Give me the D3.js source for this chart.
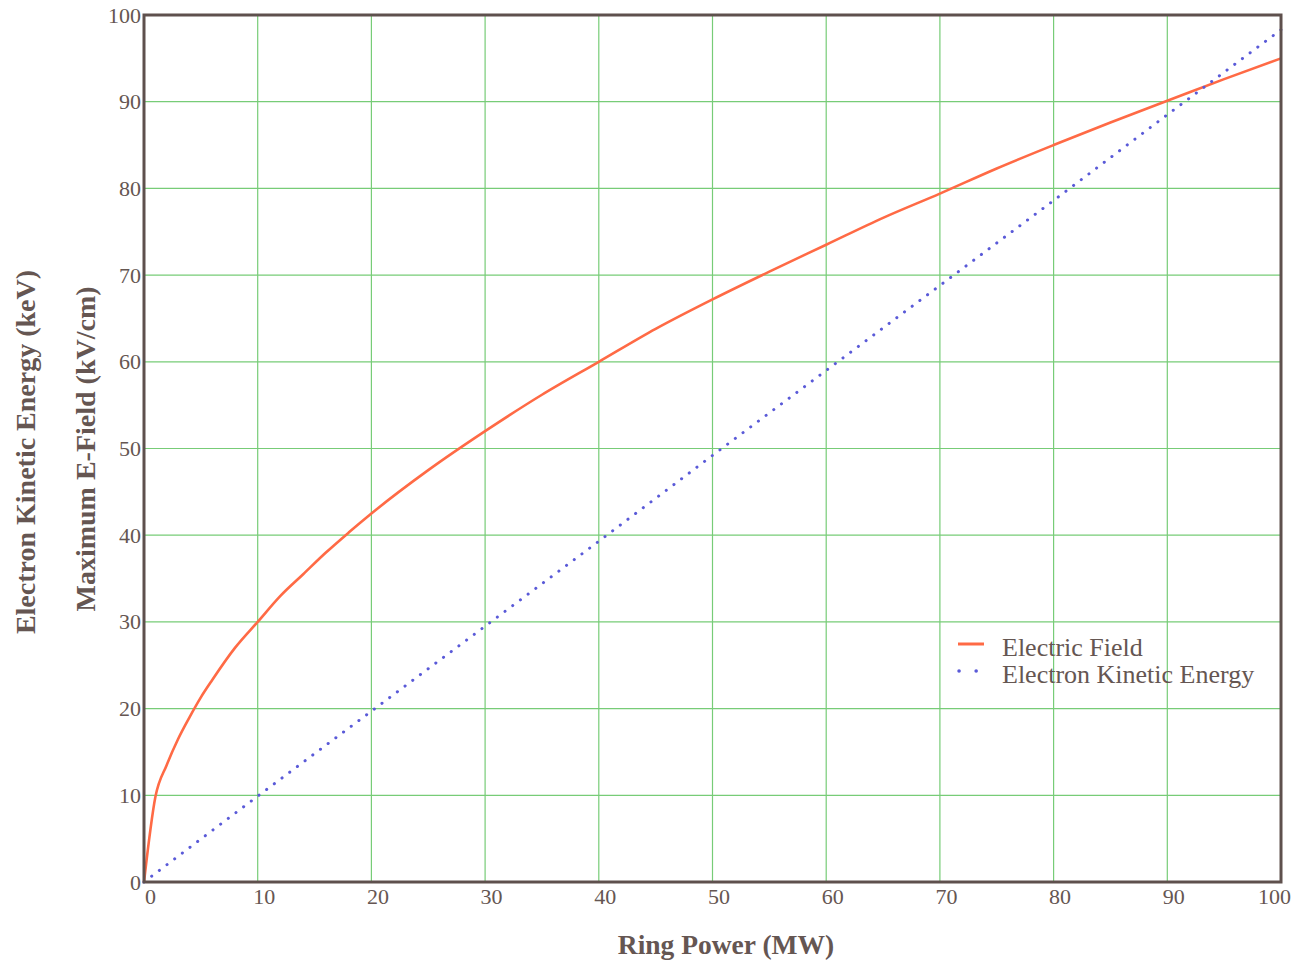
<!DOCTYPE html>
<meta charset="utf-8">
<style>
body { margin:0; background:#fff; overflow:hidden; }
text { font-family:'Liberation Serif', 'DejaVu Serif', serif; fill:#655652; }
</style>
<svg width="1294" height="962"></svg>
<script src="https://d3js.org/d3.v7.min.js"></script>
<script>
// ring power (MW) vs electric field (kV/cm)
var fieldPower = [0, 1, 2, 3, 4, 5, 6, 8, 10, 12, 14, 16, 18, 20, 25, 30, 35, 40, 45, 50, 55, 60, 65, 70, 75, 80, 85, 90, 95, 100]
var fieldValue = [0, 9.8, 13.5, 16.5, 19, 21.3, 23.3, 27, 30, 33, 35.5, 38, 40.3, 42.5, 47.5, 52, 56.2, 60, 63.8, 67.2, 70.4, 73.5, 76.6, 79.4, 82.3, 85, 87.6, 90.1, 92.6, 95]
// electron kinetic energy (keV)
var kePower = [0, 10, 20, 30, 40, 50, 60, 70, 80, 90, 100]
var keValue = [0, 9.9, 19.7, 29.5, 39.3, 49.2, 59, 68.8, 78.6, 88.5, 98.3]
var xTicks = [0, 10, 20, 30, 40, 50, 60, 70, 80, 90, 100]
var yTicks = [0, 10, 20, 30, 40, 50, 60, 70, 80, 90, 100]

var svg = d3.select('svg')
var plotL = 144, plotR = 1281, plotT = 15, plotB = 882

var x = d3.scaleLinear().domain([0, 100]).range([plotL, plotR])
var y = d3.scaleLinear().domain([0, 100]).range([plotB, plotT])

// grid
var grid = svg.append('g').attr('stroke', '#77cc77').attr('stroke-width', 1.2)
grid.selectAll('.gx').data(xTicks.slice(1, -1)).enter().append('line')
    .attr('x1', d => x(d)).attr('x2', d => x(d)).attr('y1', plotT).attr('y2', plotB)
grid.selectAll('.gy').data(yTicks.slice(1, -1)).enter().append('line')
    .attr('y1', d => y(d)).attr('y2', d => y(d)).attr('x1', plotL).attr('x2', plotR)

// axes (labels only, frame drawn separately)
var xAxis = svg.append('g').attr('transform', 'translate(0,' + plotB + ')')
    .call(d3.axisBottom(x).tickValues(xTicks).tickSize(0).tickPadding(6))
var yAxis = svg.append('g').attr('transform', 'translate(' + plotL + ',0)')
    .call(d3.axisLeft(y).tickValues(yTicks).tickSize(0).tickPadding(3))
svg.selectAll('.domain').remove()
svg.selectAll('.tick text').attr('font-size', 22).attr('fill', '#655652')
    .attr('font-family', "'Liberation Serif', serif")
xAxis.selectAll('.tick text').attr('dx', d => d === 100 ? -7 : 6)

// curves
var fieldLine = d3.line().x((d, i) => x(fieldPower[i])).y(d => y(d)).curve(d3.curveMonotoneX)
svg.append('path').datum(fieldValue).attr('d', fieldLine)
    .attr('fill', 'none').attr('stroke', '#ff6a45').attr('stroke-width', 2.6)

var keLine = d3.line().x((d, i) => x(kePower[i])).y(d => y(d))
svg.append('path').datum(keValue).attr('d', keLine)
    .attr('fill', 'none').attr('stroke', '#5a5ad8').attr('stroke-width', 3)
    .attr('stroke-dasharray', '0.1,9.5').attr('stroke-linecap', 'round')

// frame
svg.append('rect').attr('x', plotL).attr('y', plotT).attr('width', plotR - plotL).attr('height', plotB - plotT)
    .attr('fill', 'none').attr('stroke', '#5e504d').attr('stroke-width', 3)

// legend
var lg = svg.append('g').attr('transform', 'translate(958,644)')
lg.append('line').attr('x1', 0).attr('x2', 26).attr('y1', 0).attr('y2', 0)
    .attr('stroke', '#ff6a45').attr('stroke-width', 3)
lg.append('line').attr('x1', 1).attr('x2', 20).attr('y1', 27).attr('y2', 27)
    .attr('stroke', '#5a5ad8').attr('stroke-width', 3.5).attr('stroke-dasharray', '0.1,17')
    .attr('stroke-linecap', 'round')
lg.append('text').attr('x', 44).attr('y', 12).attr('font-size', 26).attr('fill', '#5e504d')
    .text('Electric Field')
lg.append('text').attr('x', 44).attr('y', 39).attr('font-size', 26).attr('fill', '#5e504d')
    .text('Electron Kinetic Energy')

// axis titles
svg.append('text').attr('x', 726).attr('y', 954).attr('text-anchor', 'middle')
    .attr('font-size', 27.5).attr('font-weight', 'bold').text('Ring Power (MW)')
svg.append('text').attr('transform', 'translate(35,452) rotate(-90)').attr('text-anchor', 'middle')
    .attr('font-size', 28).attr('font-weight', 'bold').text('Electron Kinetic Energy (keV)')
svg.append('text').attr('transform', 'translate(95,449) rotate(-90)').attr('text-anchor', 'middle')
    .attr('font-size', 28).attr('font-weight', 'bold').text('Maximum E-Field (kV/cm)')
</script>
